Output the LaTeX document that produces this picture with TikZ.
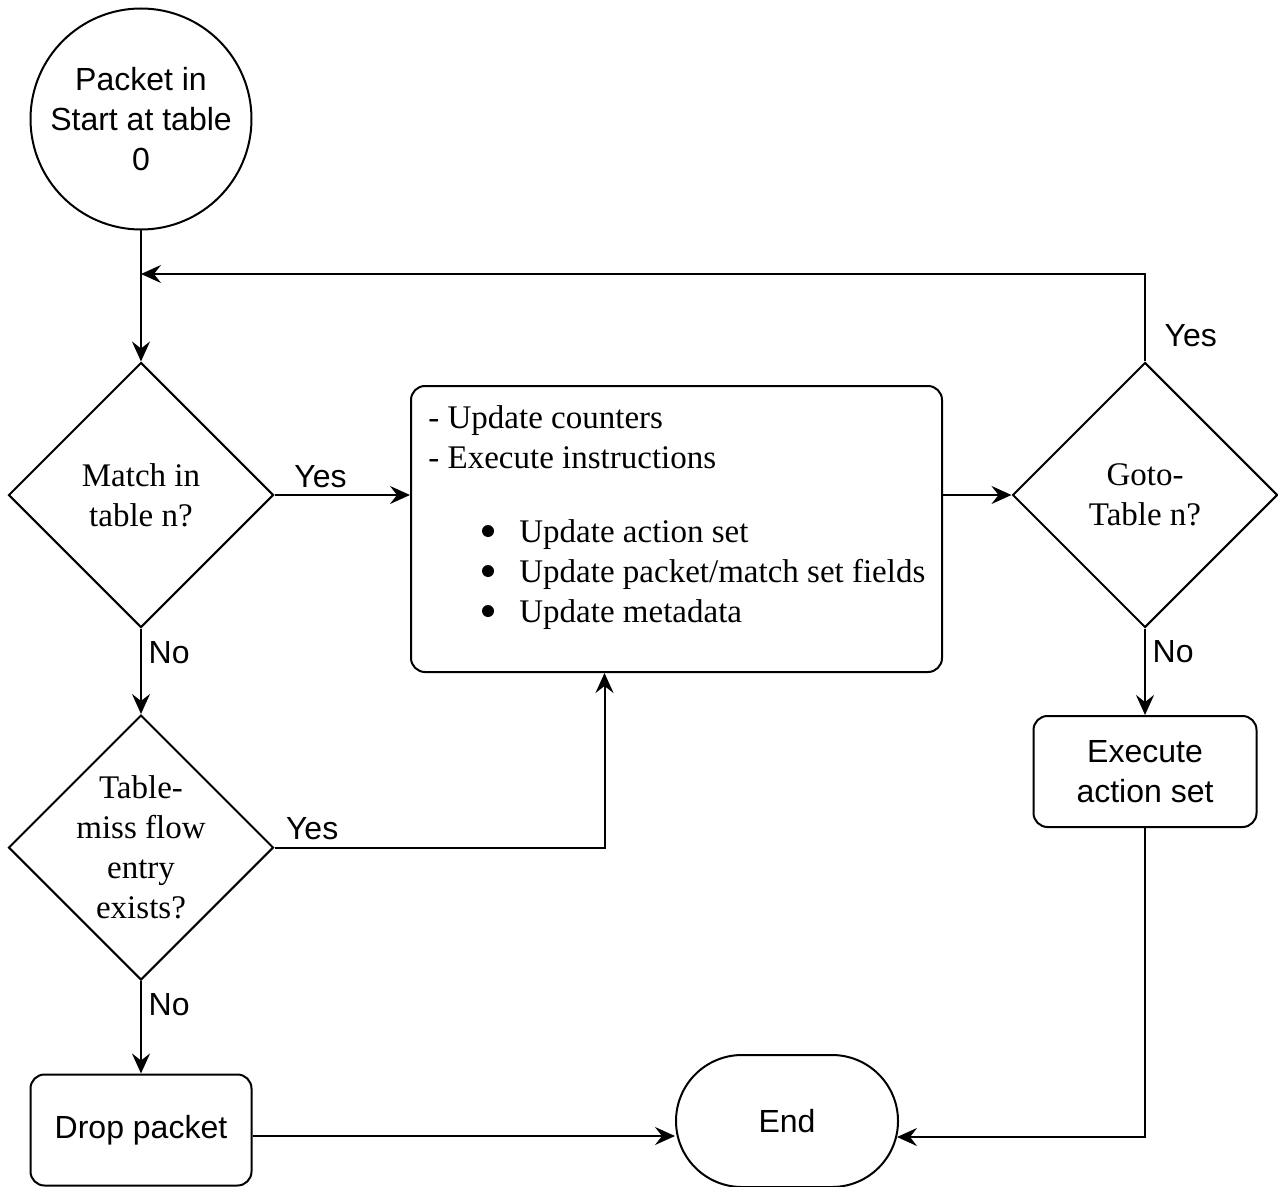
\documentclass[tikz,border=0pt]{standalone}
\usepackage{fontspec}
\setmainfont{Liberation Serif}
\newfontfamily\flowsans{Liberation Sans}
\usepackage{tikz}
\usetikzlibrary{arrows.meta,calc,positioning,shapes.geometric}

\newcommand{\flowitem}{\hspace*{45.5pt}}

\tikzset{
  flow/.style={line width=1pt,-{Stealth[length=10pt,width=9pt,inset=3.5pt]}},
  sanstext/.style={font=\flowsans\fontsize{16}{20}\selectfont,align=center},
  seriftext/.style={font=\fontsize{16.5}{20}\selectfont,align=center},
  startnode/.style={circle,draw,line width=1pt,minimum size=110.5pt,inner sep=0pt,sanstext},
  decision/.style={diamond,draw,line width=1pt,minimum width=132.5pt,minimum height=132.5pt,inner sep=-3pt,seriftext},
  process/.style={rectangle,rounded corners=7pt,draw,line width=1pt},
  terminal/.style={rectangle,rounded corners=33pt,draw,line width=1pt,minimum width=111pt,minimum height=66pt,sanstext},
  edgelabel/.style={sanstext}
}

\begin{document}
\begin{tikzpicture}[x=0.5pt,y=-0.5pt]
  \useasboundingbox (0,0) rectangle (1278,1187);

  % left column
  \node[startnode] (start) at (141,119) {Packet in\\Start at table\\0};
  \node[decision] (match) at (141,495) {Match in\\table n?};
  \node[decision] (miss) at (141,847.5) {Table-\\miss flow\\entry\\exists?};
  \node[process,sanstext,minimum width=110.5pt,minimum height=55.5pt] (drop) at (141,1130) {Drop packet};
  \coordinate (join) at (141,274);

  % middle
  \node[process,minimum width=265.5pt,minimum height=143pt] (update) at (676.5,529) {};
  \node[seriftext,align=left,anchor=north west,inner sep=0pt] (updtext) at (428,405.5)
    {- Update counters\\
     - Execute instructions\\[17pt]
     \flowitem Update action set\\
     \flowitem Update packet/match set fields\\
     \flowitem Update metadata};
  \foreach \y in {531,571,611}
    \fill (488,\y) circle (3pt);
  \node[terminal] (finish) at (787,1121) {End};

  % right column
  \node[decision] (goto) at (1145,495) {Goto-\\Table n?};
  \node[process,sanstext,minimum width=111.5pt,minimum height=55.5pt] (exec) at (1145,771.5) {Execute\\action set};

  % connectors
  \draw[flow] (start) -- (match);
  \draw[flow] (goto) |- node[pos=0.15,right=6pt,edgelabel]{Yes} (join);
  \draw[flow] (match) -- node[pos=0.34,above,edgelabel]{Yes} (match -| update.west);
  \draw[flow] (match) -- node[pos=0.28,right,edgelabel]{No} (miss);
  \draw[flow] (miss) -| node[pos=0.057,above,edgelabel]{Yes} ($(update.south west)+(194.5,0)$);
  \draw[flow] (miss) -- node[pos=0.26,right,edgelabel]{No} (drop);
  \draw[flow] (update.east |- goto) -- (goto);
  \draw[flow] (goto) -- node[pos=0.27,right,edgelabel]{No} (exec);
  \draw[flow] (exec) |- ($(finish.east)+(-2,16)$);
  \draw[flow] ($(drop.east)+(0,6)$) -- ($(drop.east -| finish.west)+(0,6)$);
\end{tikzpicture}
\end{document}
